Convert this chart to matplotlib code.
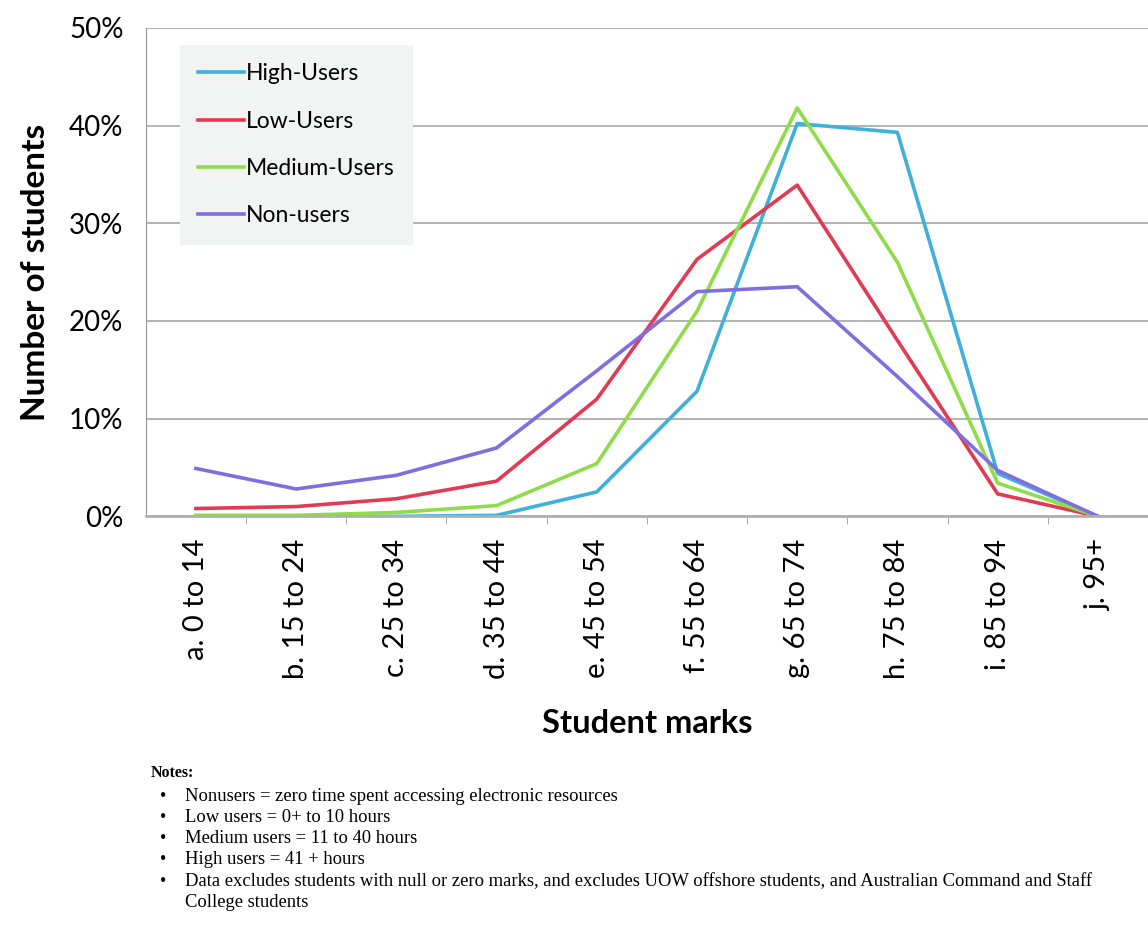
import matplotlib.pyplot as plt
import numpy as np

# Data to plot
mark_bands = ['a. 0 to 14', 'b. 15 to 24', 'c. 25 to 34', 'd. 35 to 44', 'e. 45 to 54',
              'f. 55 to 64', 'g. 65 to 74', 'h. 75 to 84', 'i. 85 to 94', 'j. 95+']
high_users   = [0.0, 0.0, 0.0, 0.1, 2.5, 12.8, 40.2, 39.3, 4.4, 0.0]
low_users    = [0.8, 1.0, 1.8, 3.6, 12.0, 26.3, 33.9, 18.0, 2.3, 0.0]
medium_users = [0.1, 0.1, 0.4, 1.1, 5.4, 21.0, 41.8, 26.0, 3.4, 0.0]
non_users    = [4.9, 2.8, 4.2, 7.0, 14.9, 23.0, 23.5, 14.3, 4.7, 0.0]

series = [
    ('High-Users', high_users, '#3fb0d9'),
    ('Low-Users', low_users, '#e23a52'),
    ('Medium-Users', medium_users, '#8fdc4a'),
    ('Non-users', non_users, '#7f6ee0'),
]

notes = [
    'Nonusers = zero time spent accessing electronic resources',
    'Low users = 0+ to 10 hours',
    'Medium users = 11 to 40 hours',
    'High users = 41 + hours',
    'Data excludes students with null or zero marks, and excludes UOW offshore students, and Australian Command and Staff',
]

plt.rcParams['font.family'] = ['Lato', 'DejaVu Sans']

fig = plt.figure(figsize=(11.48, 9.27), dpi=100)
ax = fig.add_axes([0.127, 0.443, 0.873, 0.527])
index = np.arange(len(mark_bands))

for name, values, color in series:
    ax.plot(index, values, color=color, lw=2.6, label=name)

# axes and grid
ax.set_xlim(-0.5, 9.34)
ax.set_ylim(0, 50)
ax.set_yticks(np.arange(0, 51, 10))
ax.set_yticklabels(['%d%%' % v for v in range(0, 51, 10)], fontsize=20)
ax.set_xticks(index)
ax.set_xticklabels(mark_bands, rotation=90, fontsize=21)
ax.set_xticks(index + 0.5, minor=True)
ax.tick_params(axis='x', which='major', length=0, pad=16)
ax.tick_params(axis='x', which='minor', length=6, color='#999999')
ax.tick_params(axis='y', length=0, pad=16)
ax.grid(axis='y', color='#a6a6a6', lw=1.2)
ax.set_axisbelow(True)
for side in ['top', 'right']:
    ax.spines[side].set_visible(False)
ax.spines['left'].set_color('#999999')
ax.spines['bottom'].set_color('#b0b0b0')
ax.spines['bottom'].set_linewidth(2)

ax.set_ylabel('Number of students', fontsize=24, fontweight='bold', labelpad=14)
ax.set_xlabel('Student marks', fontsize=23.5, fontweight='bold', labelpad=22)

leg = ax.legend(loc='upper left', bbox_to_anchor=(0.034, 0.965), borderaxespad=0,
                fontsize=16.5, handlelength=2.0, handletextpad=0.08, labelspacing=1.15,
                borderpad=0.8, frameon=True, fancybox=False)
leg.get_frame().set_facecolor('#f2f4f4')
leg.get_frame().set_edgecolor('none')
leg.get_frame().set_alpha(1)

# notes underneath
fig.text(0.131, 0.166, 'Notes:', family='Liberation Serif', fontsize=11.5,
         fontweight='bold', va='center')
y = 0.141
for note in notes:
    fig.text(0.139, y, '\u2022', family='Liberation Serif', fontsize=13, va='center')
    fig.text(0.161, y, note, family='Liberation Serif', fontsize=13.4, va='center')
    y -= 0.0229
fig.text(0.161, y, 'College students', family='Liberation Serif', fontsize=13.4, va='center')

fig.savefig('out.png', dpi=100)
